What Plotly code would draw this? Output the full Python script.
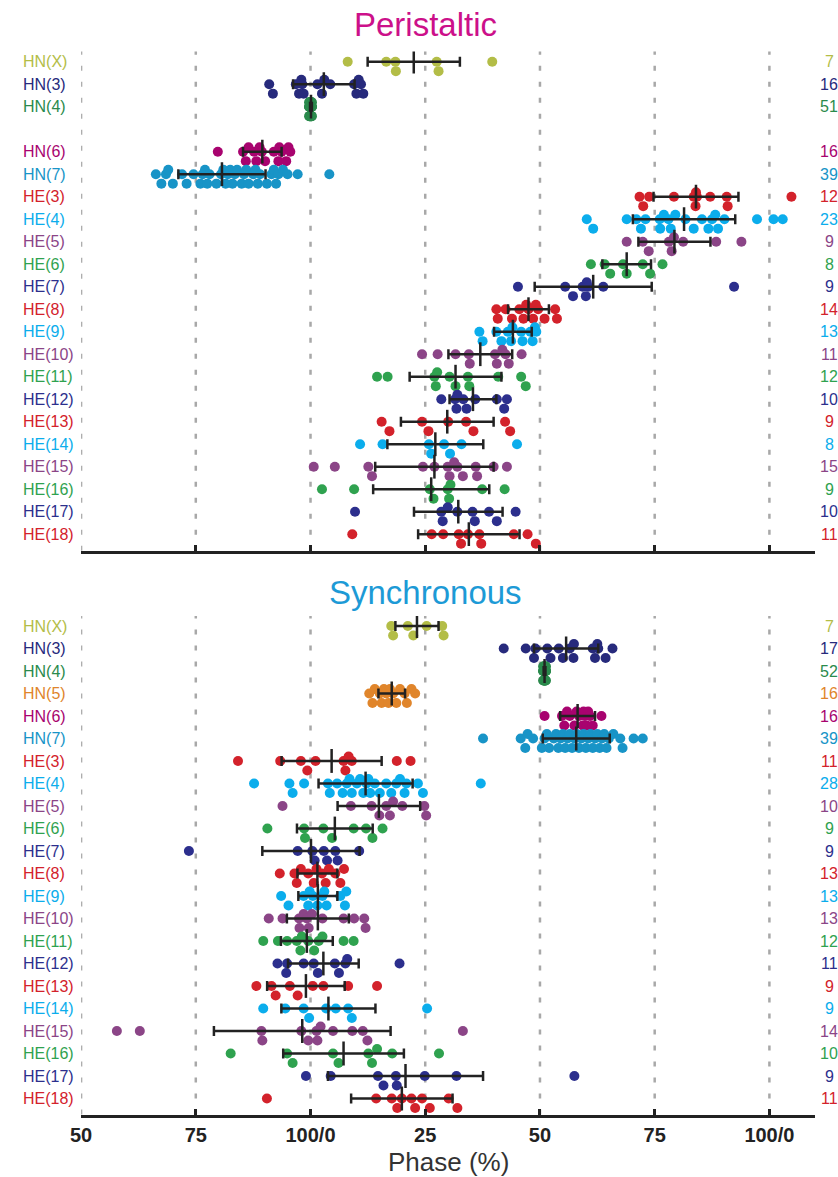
import plotly.graph_objects as go

# ---------------- data ----------------
row_labels = ["HN(X)", "HN(3)", "HN(4)", "HN(5)", "HN(6)", "HN(7)",
              "HE(3)", "HE(4)", "HE(5)", "HE(6)", "HE(7)", "HE(8)", "HE(9)",
              "HE(10)", "HE(11)", "HE(12)", "HE(13)", "HE(14)", "HE(15)",
              "HE(16)", "HE(17)", "HE(18)"]
row_colors = ["#b3bd47", "#272a7c", "#2a8a4c", "#e0852b", "#a8036f", "#1894c7",
              "#d3222b", "#0badec", "#8b4587", "#2fa24f", "#2c2f8d",
              "#d3222b", "#0badec", "#8b4587", "#2fa24f", "#2c2f8d",
              "#d3222b", "#0badec", "#8b4587", "#2fa24f", "#2c2f8d", "#d3222b"]

tick_vals = [50, 75, 100, 125, 150, 175, 200]
tick_text = ["50", "75", "100/0", "25", "50", "75", "100/0"]

# Peristaltic (phase on unwrapped axis, 50..200)
p_HNX = [108.1, 116.5, 118.5, 118.6, 127.5, 127.9, 139.6]
p_HN3 = [91.0, 91.8, 96.8, 97.5, 98.0, 98.5, 98.2, 101.5, 102.5, 103.0, 104.3,
         109.5, 110.0, 110.5, 111.0, 111.5]
p_HN4 = [99.7, 99.8, 99.9, 100.0, 100.1, 100.2, 100.3, 99.8, 99.9, 100.0, 100.1,
         100.2, 99.7, 99.9, 100.0, 100.1, 100.3, 99.8, 100.0, 100.2, 99.9, 100.1,
         100.0, 99.8, 100.2, 99.9, 100.0, 100.1, 99.7, 100.3, 100.0, 99.9, 100.1,
         100.2, 99.8, 100.0, 100.0, 99.9, 100.1, 100.2, 99.8, 100.0, 100.1, 99.9,
         100.0, 100.3, 99.7, 100.1, 100.0, 99.9, 100.2]
p_HN5 = []
p_HN6 = [79.8, 85.3, 85.9, 86.5, 87.7, 88.2, 88.9, 89.4, 90.1, 92.0, 93.0, 93.2,
         93.7, 94.7, 95.2, 95.6]
p_HN7 = [66.3, 67.5, 68.5, 69.0, 70.0, 72.0, 73.0, 74.5, 76.0, 76.5, 77.0, 77.5,
         78.0, 79.5, 80.5, 81.0, 81.5, 82.0, 82.5, 83.0, 83.5, 84.0, 85.0, 85.5,
         86.0, 86.5, 87.5, 88.0, 88.5, 89.0, 90.5, 91.5, 92.0, 92.5, 93.0, 94.0,
         95.0, 97.2, 104.1]
p_HE3 = [171.7, 172.5, 173.8, 179.2, 183.5, 183.9, 184.2, 184.0, 187.1, 190.7,
         190.9, 204.8]
p_HE4 = [160.2, 161.6, 168.9, 171.0, 172.0, 173.0, 176.1, 176.2, 177.0, 178.0,
         178.5, 179.5, 181.7, 183.5, 185.3, 186.7, 187.5, 188.2, 188.8, 190.2,
         197.3, 200.9, 202.9]
p_HE5 = [168.9, 172.4, 173.7, 178.1, 178.7, 179.2, 181.2, 188.4, 193.9]
p_HE6 = [161.1, 164.1, 165.3, 168.1, 168.9, 172.4, 174.0, 176.7]
p_HE7 = [145.2, 155.5, 157.2, 159.3, 160.0, 160.2, 160.5, 163.8, 192.3]
p_HE8 = [140.5, 140.8, 142.5, 143.9, 145.5, 146.4, 147.0, 147.5, 148.5, 149.1,
         149.6, 151.0, 153.3, 153.7]
p_HE9 = [136.8, 137.5, 140.5, 141.6, 143.0, 143.7, 144.0, 145.9, 146.2, 147.9,
         148.4, 148.9, 149.2]
p_HE10 = [124.3, 127.7, 131.6, 134.5, 134.7, 140.2, 140.6, 141.8, 142.5, 143.2, 146.0]
p_HE11 = [114.5, 116.8, 127.0, 127.3, 127.6, 130.3, 131.6, 134.3, 134.6, 140.9,
          145.9, 146.9]
p_HE12 = [128.5, 131.5, 131.8, 132.0, 133.3, 134.0, 135.9, 140.6, 142.2, 142.8]
p_HE13 = [115.5, 117.2, 124.3, 125.7, 130.0, 133.9, 135.5, 142.4, 143.5]
p_HE14 = [110.8, 115.7, 125.8, 126.3, 129.1, 130.4, 132.9, 145.0]
p_HE15 = [100.7, 105.3, 112.6, 113.4, 124.5, 127.0, 129.9, 130.3, 131.3, 132.0,
          133.2, 136.0, 136.3, 139.9, 142.8]
p_HE16 = [102.5, 109.5, 126.0, 126.8, 129.9, 130.2, 130.5, 137.4, 142.3]
p_HE17 = [109.7, 128.5, 128.8, 129.9, 132.0, 135.3, 135.8, 138.9, 140.6, 144.7]
p_HE18 = [109.1, 126.4, 128.9, 132.3, 132.8, 134.3, 136.8, 137.2, 144.3, 147.3, 149.1]

peri_mean = [122.5, 102.9, 100.1, None, 89.5, 80.7, 184.0, 181.4, 179.3, 168.9,
             161.6, 147.5, 144.1, 137.0, 131.6, 135.4, 129.8, 127.2, 127.0, 126.3,
             132.2, 134.5]
peri_sd = [10.05, 6.7, 0.2, None, 4.2, 9.5, 9.25, 11.15, 7.85, 5.3, 12.75, 4.45,
           4.1, 6.95, 10.0, 5.1, 10.1, 10.45, 12.9, 12.65, 9.65, 11.05]
peri_N = ["7", "16", "51", "", "16", "39", "12", "23", "9", "8", "9", "14", "13",
          "11", "12", "10", "9", "8", "15", "9", "10", "11"]

# Synchronous
s_HNX = [117.6, 118.0, 121.2, 122.4, 125.3, 128.7, 129.0]
s_HN3 = [142.1, 146.9, 148.7, 149.0, 151.6, 152.3, 154.1, 155.0, 156.5, 157.3,
         157.4, 161.5, 162.0, 162.5, 162.7, 164.3, 165.8]
s_HN4 = [150.7, 150.8, 150.9, 151.0, 151.1, 151.2, 151.3, 150.8, 150.9, 151.0,
         151.1, 151.2, 150.7, 150.9, 151.0, 151.1, 151.3, 150.8, 151.0, 151.2,
         150.9, 151.1, 151.0, 150.8, 151.2, 150.9, 151.0, 151.1, 150.7, 151.3,
         151.0, 150.9, 151.1, 151.2, 150.8, 151.0, 151.0, 150.9, 151.1, 151.2,
         150.8, 151.0, 151.1, 150.9, 151.0, 151.3, 150.7, 151.1, 151.0, 150.9,
         151.2, 151.0]
s_HN5 = [112.8, 113.5, 114.0, 115.1, 115.5, 116.0, 116.5, 117.0, 117.3, 118.0,
         118.7, 119.5, 120.5, 121.0, 122.0, 122.8]
s_HN6 = [151.0, 154.8, 155.3, 155.9, 156.5, 157.5, 158.0, 158.5, 159.3, 159.5,
         159.8, 160.2, 160.5, 160.9, 161.5, 163.4]
s_HN7 = [137.6, 145.8, 146.8, 147.3, 148.5, 150.4, 151.0, 151.5, 152.0, 153.0,
         153.5, 154.0, 154.5, 155.0, 155.5, 156.0, 156.5, 157.0, 157.5, 158.0,
         158.5, 159.0, 159.5, 160.0, 160.5, 161.0, 161.5, 162.0, 162.5, 163.0,
         163.5, 164.0, 164.5, 165.0, 166.0, 167.5, 168.0, 170.4, 172.4]
s_HE3 = [84.2, 93.4, 97.9, 99.3, 101.1, 107.2, 107.6, 108.3, 109.0, 118.8, 121.8]
s_HE4 = [87.7, 95.4, 96.1, 98.6, 103.8, 104.2, 105.8, 107.0, 107.9, 108.5, 109.0,
         110.1, 110.8, 111.5, 112.2, 112.6, 113.0, 114.0, 115.1, 116.5, 117.6,
         118.7, 119.5, 120.5, 120.9, 123.4, 124.5, 137.1]
s_HE5 = [93.9, 108.8, 113.3, 115.0, 116.5, 117.3, 118.0, 120.0, 124.8, 125.2]
s_HE6 = [90.6, 98.6, 98.8, 102.8, 104.7, 109.4, 112.1, 113.5, 115.7]
s_HE7 = [73.5, 97.2, 100.4, 100.9, 102.9, 103.6, 105.4, 105.9, 110.6]
s_HE8 = [93.3, 96.5, 97.0, 97.9, 99.5, 100.7, 101.3, 102.5, 103.3, 104.0, 105.4,
         106.5, 107.3]
s_HE9 = [93.6, 95.2, 98.5, 99.5, 99.8, 100.5, 101.5, 102.6, 103.0, 103.5, 106.5,
         107.5, 107.8]
s_HE10 = [90.9, 93.9, 97.5, 97.6, 98.5, 99.2, 99.6, 100.3, 102.6, 107.2, 109.5,
          111.7, 112.0]
s_HE11 = [89.7, 92.9, 94.9, 97.0, 97.8, 98.1, 99.5, 100.8, 101.8, 102.6, 107.2, 109.4]
s_HE12 = [92.8, 94.7, 94.9, 98.5, 100.7, 101.6, 105.3, 106.2, 107.6, 108.0, 119.4]
s_HE13 = [88.2, 91.5, 92.4, 95.5, 97.2, 100.5, 102.8, 108.2, 114.5]
s_HE14 = [89.7, 94.5, 98.5, 99.7, 103.4, 105.5, 108.2, 109.0, 125.4]
s_HE15 = [57.8, 62.8, 89.3, 89.5, 98.0, 99.5, 101.3, 101.5, 102.2, 104.9, 109.1,
          111.4, 112.4, 133.2]
s_HE16 = [82.6, 94.9, 96.1, 104.9, 106.1, 112.6, 113.4, 114.5, 117.8, 128.0]
s_HE17 = [99.0, 104.4, 114.7, 115.9, 118.6, 118.8, 124.9, 131.8, 157.5]
s_HE18 = [90.5, 114.3, 117.7, 118.9, 119.9, 122.0, 122.8, 124.3, 126.0, 130.1, 132.0]

sync_mean = [123.2, 155.7, 151.0, 117.7, 158.2, 157.9, 104.6, 112.0, 114.9, 105.3,
             100.1, 101.5, 101.6, 101.6, 99.2, 102.8, 99.0, 103.9, 98.2, 107.2,
             120.7, 119.9]
sync_sd = [4.7, 7.0, 0.2, 2.9, 3.8, 7.3, 10.9, 10.25, 9.0, 8.25, 10.6, 4.35, 4.25,
           6.75, 5.65, 7.7, 8.45, 10.25, 19.25, 13.15, 16.9, 11.05]
sync_N = ["7", "17", "52", "16", "16", "39", "11", "28", "10", "9", "9", "13", "13",
          "13", "12", "11", "9", "9", "14", "10", "9", "11"]

peri_rows = [p_HNX, p_HN3, p_HN4, p_HN5, p_HN6, p_HN7, p_HE3, p_HE4, p_HE5, p_HE6,
             p_HE7, p_HE8, p_HE9, p_HE10, p_HE11, p_HE12, p_HE13, p_HE14, p_HE15,
             p_HE16, p_HE17, p_HE18]
sync_rows = [s_HNX, s_HN3, s_HN4, s_HN5, s_HN6, s_HN7, s_HE3, s_HE4, s_HE5, s_HE6,
             s_HE7, s_HE8, s_HE9, s_HE10, s_HE11, s_HE12, s_HE13, s_HE14, s_HE15,
             s_HE16, s_HE17, s_HE18]

# ---------------- layout helpers ----------------
W, H = 838, 1177
FONT = "Arial, Liberation Sans, Helvetica, sans-serif"
ROW_PX = 22.5


def swarm(vals, mindx=2.0):
    """simple beeswarm: centre row, then below, then above"""
    order = sorted(range(len(vals)), key=lambda i: vals[i])
    offs = [0.0] * len(vals)
    cands = (0.0, 0.42, -0.2)
    placed = {c: [] for c in cands}
    for i in order:
        v = vals[i]
        best, bestd = None, -1
        for c in cands:
            d = min([abs(v - p) for p in placed[c]], default=1e9)
            if d >= mindx:
                best = c
                break
            if d > bestd:
                bestd, best = d, c
        placed[best].append(v)
        offs[i] = best
    return offs


fig = go.Figure()
panels = [("x", "y", peri_rows, peri_mean, peri_sd, peri_N, "Peristaltic", "#cc108a"),
          ("x2", "y2", sync_rows, sync_mean, sync_sd, sync_N, "Synchronous", "#1d9ad6")]

for xa, ya, rows, means, sds, ns, title, tcol in panels:
    for i, vals in enumerate(rows):
        if not vals:
            continue
        offs = swarm(vals)
        fig.add_trace(go.Scatter(
            x=vals, y=[i + o for o in offs], mode="markers", xaxis=xa, yaxis=ya,
            marker=dict(size=10, color=row_colors[i], line=dict(width=0)),
            showlegend=False, hoverinfo="x"))
    for i in range(len(rows)):
        if means[i] is None:
            continue
        fig.add_trace(go.Scatter(
            x=[means[i]], y=[i], mode="markers", xaxis=xa, yaxis=ya,
            marker=dict(symbol="line-ns", size=17,
                        line=dict(width=2.5, color="#222222")),
            error_x=dict(type="data", array=[sds[i]], color="#222222",
                         thickness=2.5, width=5),
            showlegend=False, hoverinfo="skip"))

# axes geometry (pixels)
x_left, x_right = 71, 815
top_px = (51.6, 550.7)
bot_px = (615.9, 1114.5)
row0_top, row0_bot = 61.7, 626.0


def ydom(p):
    return [1 - p[1] / H, 1 - p[0] / H]


def yrange(p, row0):
    return [(p[1] - row0) / ROW_PX, (p[0] - row0) / ROW_PX]


xcommon = dict(domain=[x_left / W, x_right / W], range=[50, 210],
               tickmode="array", tickvals=tick_vals, ticktext=tick_text,
               ticks="inside", ticklen=6, tickwidth=2.5, tickcolor="#222222",
               showline=True, linewidth=3, linecolor="#222222",
               showgrid=False, zeroline=False, fixedrange=True)

fig.update_layout(
    width=W, height=H, margin=dict(l=0, r=0, t=0, b=0),
    paper_bgcolor="white", plot_bgcolor="white",
    font=dict(family=FONT),
    xaxis=dict(anchor="y", showticklabels=False, **xcommon),
    xaxis2=dict(anchor="y2", showticklabels=True,
                tickfont=dict(size=20, color="#222222", family=FONT, weight="bold"),
                **xcommon),
    yaxis=dict(domain=ydom(top_px), range=yrange(top_px, row0_top), visible=False,
               fixedrange=True),
    yaxis2=dict(domain=ydom(bot_px), range=yrange(bot_px, row0_bot), visible=False,
                fixedrange=True),
)

# dashed vertical grid lines at each tick value (drawn below the data)
shapes = []
for xa, ya in (("x", "y"), ("x2", "y2")):
    for tv in tick_vals:
        shapes.append(dict(type="line", xref=xa, yref=ya + " domain", x0=tv, x1=tv,
                           y0=0, y1=1, layer="below",
                           line=dict(color="#a8a8a8", width=2.5, dash="5px,11px")))
fig.update_layout(shapes=shapes)

ann = []
for (xa, ya, rows, means, sds, ns, title, tcol), ttl_px in zip(panels, (25, 592)):
    yref = ya
    for i, lab in enumerate(row_labels):
        if ns[i] == "":
            continue
        ann.append(dict(x=10 / W, xref="paper", xanchor="left", y=i, yref=yref,
                        yanchor="middle", text=lab, showarrow=False,
                        font=dict(size=16, color=row_colors[i], family=FONT)))
        ann.append(dict(x=829 / W, xref="paper", xanchor="center", y=i, yref=yref,
                        yanchor="middle", text=ns[i], showarrow=False,
                        font=dict(size=16, color=row_colors[i], family=FONT)))
    ann.append(dict(x=828 / W, xref="paper", xanchor="center", y=-0.95, yref=yref,
                    yanchor="middle", text="<b>N</b>", showarrow=False,
                    font=dict(size=18, color="#222222", family=FONT)))
    ann.append(dict(x=420 / W, xref="paper", xanchor="center", y=1 - ttl_px / H,
                    yref="paper", yanchor="middle", text=title, showarrow=False,
                    font=dict(size=33, color=tcol, family=FONT)))

ann.append(dict(x=443 / W, xref="paper", xanchor="center", y=1 - 1162 / H,
                yref="paper", yanchor="middle", text="Phase (%)", showarrow=False,
                font=dict(size=26, color="#333333", family=FONT)))
fig.update_layout(annotations=ann)

fig.write_html("out.html", config={"displayModeBar": False},
               post_script="document.body.style.margin='0';"
                           "document.body.style.overflow='hidden';")
